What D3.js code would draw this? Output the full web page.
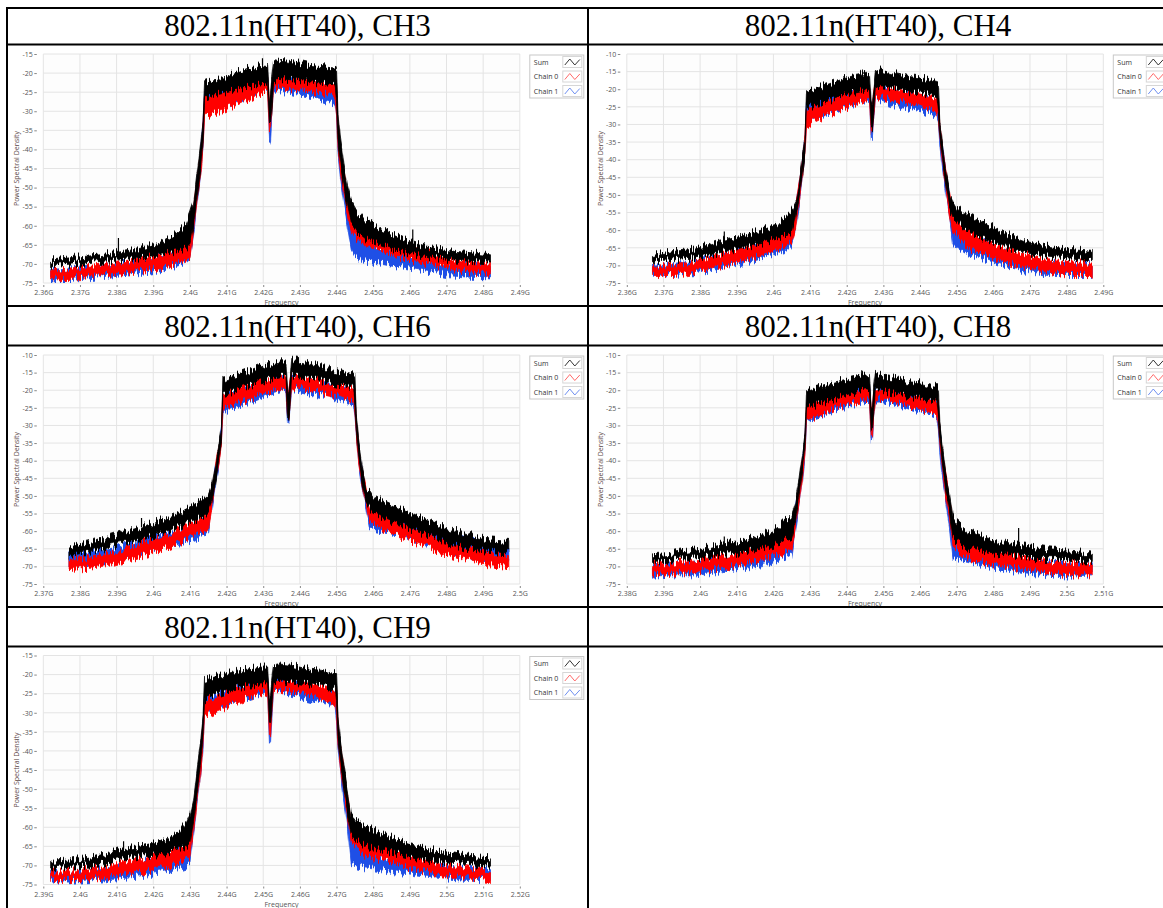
<!DOCTYPE html>
<html><head><meta charset="utf-8">
<script src="https://cdn.jsdelivr.net/npm/d3@7"></script>
<style>
html,body{margin:0;padding:0;background:#fff;overflow:hidden;}
svg{display:block;}
</style></head><body>
<svg id="chart" width="1163" height="908"></svg>
<script>
// ---------- DATA ----------
// frequency offsets (MHz) from each channel's centre, shared by all series
const offsetsMHz = [-60,-54,-48,-42,-36,-30, -26,-23,-22,-21,-20,-19, -18.4,-18,-17.6,-14,-10,-6,
  -2,-0.8,-0.3,0,0.3,0.8, 2,6,10,14,17.6,18, 18.4,19,20,21,22,23, 26,30,36,42,48,54, 60];

const titles = ["802.11n(HT40), CH3","802.11n(HT40), CH4","802.11n(HT40), CH6","802.11n(HT40), CH8","802.11n(HT40), CH9"];
const centersGHz = [2.422, 2.427, 2.437, 2.447, 2.452];
const xDomains = [[2.36,2.49],[2.36,2.49],[2.37,2.50],[2.38,2.51],[2.39,2.52]];
const yDomains = [[-75,-15],[-75,-10],[-75,-10],[-75,-10],[-75,-15]];
const seriesNames = ["Sum","Chain 0","Chain 1"];

// each entry: [low, high] envelope of the noisy trace (dB)
const ch3Sum = [[-70.5,-69],[-70,-68.3],[-69.5,-67.8],[-69,-67],[-68.5,-66],[-67.5,-64.5],
 [-66.7,-62.3],[-65.8,-59.7],[-65,-57],[-60,-54],[-52,-46],[-44,-38],
 [-37,-32],[-27,-22.5],[-26.5,-22.3],[-25.3,-21.8],[-24.4,-20],[-23.5,-18.7],
 [-22.7,-17.9],[-23,-18],[-33,-27],[-32.7,-25],[-30,-22],[-22.5,-17.5],
 [-21.4,-16.6],[-21.8,-17],[-22.2,-17.9],[-22.7,-18.3],[-23.1,-18.7],[-27,-19],
 [-38,-30],[-43,-37],[-50,-44],[-55,-50],[-60,-54],[-61,-56],
 [-63.5,-58.5],[-65,-61],[-66.8,-63.5],[-68,-65.5],[-68.8,-66.5],[-69.3,-67],
 [-69.8,-67.6]];
const ch3Chain0 = [[-73.7,-71.5],[-73.5,-71],[-73,-70.5],[-72.5,-69.8],[-71.8,-68.8],[-71,-67.5],
 [-70,-66],[-69,-64.5],[-68.5,-62],[-62,-56],[-54,-48],[-46,-40],
 [-39,-33],[-31.5,-25.5],[-31.4,-25.5],[-30,-24.5],[-28.5,-23.5],[-26.8,-22],
 [-25,-20.8],[-25,-21],[-35.7,-28],[-35,-27],[-31,-24],[-24,-20.5],
 [-23.8,-20.5],[-24.2,-21],[-24.6,-21.4],[-25.2,-22],[-25.7,-22.5],[-30,-23],
 [-40,-33],[-45,-39],[-52,-46],[-57,-52],[-61,-56],[-63,-58],
 [-65,-60.5],[-66.5,-62.5],[-68.5,-64.8],[-69.8,-66.8],[-71,-68.4],[-72,-69.2],
 [-72.8,-69.8]];
const ch3Chain1 = [[-74.2,-72],[-74,-71.5],[-73.5,-71],[-73,-70.2],[-72.3,-69.3],[-71.5,-68],
 [-70.5,-66.5],[-69.5,-65],[-68.5,-62],[-62,-56],[-54,-48],[-46,-40],
 [-39,-33],[-30,-24.5],[-29.5,-24],[-28.5,-23.5],[-27.5,-22.6],[-26,-21.5],
 [-24.5,-20.5],[-24.5,-20.8],[-37.9,-29],[-37,-28],[-32,-25],[-24,-20.5],
 [-24.5,-20.8],[-25.5,-21.5],[-26.2,-22.2],[-27,-23],[-27.9,-23.5],[-31,-24],
 [-41,-34],[-47,-40],[-54,-47],[-60,-53],[-66,-58],[-68,-61],
 [-69.3,-64],[-69.8,-65.5],[-70.8,-67.2],[-71.8,-68.6],[-72.8,-69.8],[-73.2,-70.2],
 [-73.4,-70.6]];

const ch4Sum = [[-68.7,-67.2],[-68.4,-66],[-67.8,-65.3],[-66.5,-63.2],[-65.1,-61.8],[-63.7,-59.9],
 [-62.2,-58.5],[-60.8,-54.7],[-60.4,-54.2],[-55.6,-51.9],[-50.9,-47.1],[-43.3,-38.6],
 [-38.6,-33.9],[-25.4,-20.7],[-25.2,-20.6],[-24,-19.3],[-22.6,-17.8],[-21.1,-16.4],
 [-20.2,-15.5],[-20.5,-15.5],[-31,-25],[-31,-24],[-28,-21],[-20,-15],
 [-19.3,-14.5],[-19.7,-15.5],[-20.7,-16.4],[-21.1,-16.9],[-22.1,-17.8],[-26,-18],
 [-33,-29],[-38.6,-34.8],[-47.1,-43.3],[-53.7,-49],[-56.6,-51.9],[-57.5,-53.7],
 [-60.4,-55.6],[-62.2,-57.5],[-64.6,-60.8],[-66.5,-63.2],[-67.4,-64.6],[-67.9,-65.5],
 [-68.4,-66]];
const ch4Chain0 = [[-72.6,-70.3],[-72.6,-69.8],[-71.7,-68.9],[-70.3,-67],[-68.9,-65.1],[-67,-62.7],
 [-65.5,-61.3],[-64.1,-59.4],[-63.2,-58.9],[-60,-54],[-53,-47.5],[-44,-39],
 [-38,-34],[-30.1,-25.4],[-30,-25.3],[-28.2,-24],[-26.3,-22.1],[-24.9,-20.7],
 [-23,-19.3],[-23,-19.5],[-33,-26],[-33,-25],[-29,-22],[-22.5,-19],
 [-22.1,-18.8],[-23,-19.7],[-24,-20.7],[-24.9,-21.6],[-26.3,-22.6],[-28,-22],
 [-34,-30],[-40,-35],[-48,-43],[-55,-49],[-60.4,-55.6],[-61,-56.5],
 [-65.1,-59.9],[-66.5,-62.2],[-68.9,-65.1],[-70.7,-67],[-71.7,-68.4],[-72.6,-69.3],
 [-72.6,-69.3]];
const ch4Chain1 = [[-72.8,-70.5],[-72.6,-70],[-72,-69],[-70.8,-67.3],[-69.5,-65.6],[-67.8,-63],
 [-66.5,-61.8],[-65.5,-59.5],[-64,-58.5],[-60,-54],[-53,-47.5],[-44,-39],
 [-38,-34],[-28.7,-24],[-28.5,-23.8],[-27.3,-22.6],[-25.9,-21.1],[-24.5,-20.2],
 [-23,-19.3],[-23.2,-19.5],[-34,-26],[-34,-25],[-29,-22],[-22.8,-19.2],
 [-22.9,-19.3],[-24.5,-20.7],[-25.4,-21.6],[-26.3,-22.6],[-27.8,-24],[-29,-23],
 [-35,-30],[-41,-35],[-49,-43],[-56,-50],[-64.1,-58.5],[-65,-58],
 [-67,-61.3],[-67.9,-63.2],[-70.3,-66.5],[-71.7,-68.4],[-72.6,-69.3],[-72.6,-69.8],
 [-72.6,-69.8]];

const ch6Sum = [[-67.2,-64.8],[-66.2,-63.4],[-64.3,-61.5],[-62.9,-59.6],[-61,-57.2],[-58.7,-54.9],
 [-57.2,-52.5],[-55.3,-50.6],[-54.4,-49.7],[-51.6,-46.8],[-45.9,-41.2],[-39.3,-34.6],
 [-34.6,-30.8],[-21.3,-17.1],[-21.2,-17],[-19.9,-15.7],[-18.5,-14.3],[-17.1,-12.8],
 [-16.1,-11.9],[-16,-12],[-28.4,-22],[-28,-21],[-25,-18],[-15.5,-11.5],
 [-16.1,-11.4],[-16.6,-12.4],[-17.6,-13.8],[-18.5,-14.7],[-19.4,-15.7],[-24,-16],
 [-31,-27],[-39.3,-34.6],[-46.8,-42.1],[-51.6,-47.8],[-53.5,-48.7],[-54.4,-50.2],
 [-56.3,-51.6],[-58.2,-53.5],[-60.5,-56.3],[-62.9,-58.7],[-64.8,-60.5],[-65.7,-62.4],
 [-66.2,-62.9]];
const ch6Chain0 = [[-70.9,-68.1],[-70.5,-67.6],[-69.5,-66.2],[-67.6,-63.8],[-65.7,-62],[-63.4,-59.6],
 [-61.5,-57.7],[-59.6,-55.3],[-59.1,-54.4],[-53,-48],[-46,-42],[-40,-35.5],
 [-35,-31],[-25.1,-20.9],[-25,-20.8],[-23.7,-19.4],[-22.3,-18],[-20.4,-16.6],
 [-19.4,-15.7],[-19.5,-16],[-28,-22],[-28,-21],[-25,-18],[-19.5,-15.8],
 [-19,-15.7],[-19.9,-16.6],[-20.9,-17.6],[-21.8,-18.5],[-23.2,-19.4],[-26,-20],
 [-32,-28],[-40,-35],[-47,-43],[-52,-48],[-57.2,-53],[-58,-53.5],
 [-59.6,-54.9],[-61.5,-56.8],[-63.8,-59.6],[-66.2,-62],[-68.1,-64.3],[-69.5,-65.7],
 [-70,-66.7]];
const ch6Chain1 = [[-69.9,-65.7],[-69,-65.7],[-68.1,-64.8],[-66.7,-63.4],[-65.3,-61.5],[-63.4,-59.6],
 [-62.4,-58.2],[-61,-56.3],[-60,-55],[-53.5,-48.5],[-46.5,-42],[-40.5,-35.5],
 [-35.5,-31],[-26.1,-22.3],[-26,-22.2],[-24.6,-20.4],[-23.2,-19],[-21.3,-17.6],
 [-20.4,-16.6],[-20.4,-16.8],[-30,-22],[-29.5,-21],[-25,-18.5],[-20,-16.6],
 [-19.9,-16.6],[-20.9,-17.6],[-21.8,-18.5],[-22.8,-19.4],[-23.7,-20.4],[-27,-21],
 [-33,-28.5],[-41,-35.5],[-48,-43.5],[-53,-48.5],[-59.1,-53.5],[-59.5,-54],
 [-60,-55],[-60.5,-56.3],[-62.9,-58.7],[-64.8,-60.5],[-66.7,-62.4],[-67.6,-63.8],
 [-68.6,-64.8]];

const ch8Sum = [[-68.6,-66.7],[-68.1,-66.2],[-67.6,-65.3],[-66.7,-63.8],[-66.2,-62.9],[-64.8,-61],
 [-63.8,-59.1],[-62,-56.3],[-61.5,-55.3],[-57,-52],[-50,-46],[-42,-38],
 [-37,-33],[-25.1,-20.4],[-25,-20.3],[-23.7,-19],[-22.3,-17.6],[-20.9,-16.6],
 [-19.9,-15.7],[-20,-15.5],[-31.7,-25],[-31,-24],[-27,-20],[-20,-15.5],
 [-19.9,-15.7],[-20.9,-16.6],[-21.8,-17.6],[-22.3,-18],[-23.2,-19],[-27,-19],
 [-34,-30],[-40,-35],[-48,-43],[-54,-49],[-62,-56],[-63,-57.5],
 [-64.8,-60],[-65.7,-61.5],[-66.7,-63.4],[-67.6,-64.3],[-68.1,-65.3],[-68.1,-65.7],
 [-68.6,-66.2]];
const ch8Chain0 = [[-72.4,-69.5],[-71.9,-69],[-71.4,-68.1],[-70.5,-67.2],[-69.5,-65.7],[-68.1,-63.8],
 [-66.7,-62.4],[-65.7,-61],[-65.3,-60],[-59,-54],[-52,-47],[-44,-39],
 [-38,-34],[-28.4,-24.2],[-28.3,-24.1],[-27,-22.8],[-25.1,-20.9],[-23.7,-19.9],
 [-22.8,-19],[-22.8,-19],[-32.7,-26],[-32.7,-25],[-28,-21],[-22.5,-19],
 [-22.3,-19],[-23.2,-19.9],[-24.6,-20.9],[-25.6,-21.8],[-27,-22.8],[-30,-23],
 [-36,-31],[-42,-37],[-50,-44],[-56,-51],[-64,-58.5],[-65,-59.5],
 [-67.6,-62.4],[-68.6,-63.8],[-70,-66.2],[-70.9,-67.6],[-71.9,-68.6],[-72.4,-69],
 [-72.4,-69]];
const ch8Chain1 = [[-72.8,-70],[-72.4,-69.5],[-72.4,-69],[-71.4,-68.1],[-70.5,-67.2],[-69.5,-65.3],
 [-68.1,-63.8],[-67.2,-62],[-66.7,-61],[-59.5,-54],[-52.5,-47],[-44.5,-39],
 [-38.5,-34],[-28.9,-25.1],[-28.8,-25],[-27.5,-23.2],[-25.6,-21.8],[-24.2,-20.4],
 [-23.2,-19.4],[-23.2,-19.4],[-34,-26],[-34,-25],[-29,-21.5],[-22.8,-19.4],
 [-22.8,-19.4],[-23.7,-20.4],[-25.1,-21.3],[-26.1,-22.3],[-27.5,-23.2],[-30.5,-23.5],
 [-37,-31.5],[-43,-37.5],[-51,-45],[-58,-52],[-67.6,-60],[-67.8,-61],
 [-68.6,-63.8],[-69.5,-64.8],[-70.9,-67.2],[-71.9,-68.1],[-72.4,-69],[-72.8,-69.5],
 [-72.4,-69.5]];

const ch9Sum = [[-70.7,-68.9],[-70.2,-68.5],[-69.8,-67.6],[-68.9,-66.3],[-67.6,-65],[-67.2,-63.7],
 [-65.9,-62],[-65,-58.9],[-64.1,-56.7],[-58,-52],[-50,-44],[-42,-37],
 [-36,-31],[-26.7,-21.5],[-26.5,-21.4],[-25,-20.2],[-23.7,-19.3],[-22.8,-18.5],
 [-22.4,-18],[-22.5,-18],[-32.8,-26],[-32.5,-25.5],[-29,-22],[-22,-17.5],
 [-21.5,-17.2],[-22,-17.6],[-22.4,-18.5],[-22.8,-18.9],[-23.7,-19.8],[-27,-20],
 [-36,-30],[-42,-37],[-50,-44],[-56,-50],[-62,-57],[-63,-58],
 [-65,-59.8],[-65.9,-61.5],[-67.2,-63.7],[-68.5,-65.4],[-69.3,-66.7],[-69.8,-67.6],
 [-70.2,-68]];
const ch9Chain0 = [[-73.7,-71.5],[-73.7,-71.5],[-73.3,-70.7],[-72.8,-69.8],[-72,-68.5],[-70.7,-66.7],
 [-69.8,-65.4],[-68.5,-63.7],[-68,-62.4],[-61,-55],[-53,-47],[-45,-39],
 [-38,-33],[-30.7,-26.7],[-30.6,-26.6],[-29.3,-25.4],[-27.6,-23.7],[-25.9,-22.4],
 [-24.6,-21.1],[-24.6,-21],[-36.3,-28],[-36,-27],[-31,-24],[-24,-20.5],
 [-23.7,-20.7],[-24.6,-21.5],[-25.4,-22.4],[-26.7,-23.3],[-27.6,-24.1],[-31,-24],
 [-38,-32],[-44,-38],[-51,-45],[-57,-51],[-64,-59],[-65,-60],
 [-67.6,-62.4],[-68.5,-64.1],[-70.2,-66.3],[-71.5,-68.5],[-72.4,-69.8],[-73.3,-70.7],
 [-73.7,-71.1]];
const ch9Chain1 = [[-74.1,-72],[-74.1,-72],[-73.7,-71.1],[-73.3,-70.2],[-72.8,-69.3],[-72,-68],
 [-71.1,-66.7],[-70.2,-65],[-69.8,-64.1],[-61.5,-55],[-53.5,-47],[-45.5,-39],
 [-38.5,-33],[-30.2,-25.9],[-30,-25.8],[-28.5,-24.6],[-27.2,-23.3],[-25.9,-22],
 [-24.6,-21.1],[-24.8,-21.2],[-38,-28],[-37.5,-27],[-32,-24.5],[-24.2,-21],
 [-24.1,-21.1],[-25,-22],[-26.3,-22.8],[-27.2,-23.7],[-28,-24.6],[-31.5,-24.5],
 [-39,-32.5],[-45,-38.5],[-53,-46],[-60,-53],[-69.8,-61.5],[-70,-63],
 [-70.7,-66.7],[-71.1,-67.6],[-72,-68.5],[-72.8,-69.8],[-73.3,-70.7],[-73.7,-71.1],
 [-73.7,-71.1]];

// isolated spikes of the Sum trace: [frequency GHz, peak dB]
const ch3Spikes = [[2.3805,-63.2],[2.4608,-61.0],[2.4198,-16.1],[2.4248,-16.3],[2.4399,-18.3]];
const ch4Spikes = [[2.3866,-60.4],[2.4292,-14.1],[2.4245,-15.2]];
const ch6Spikes = [[2.3968,-56.3],[2.4395,-11.2],[2.4313,-12.0]];
const ch8Spikes = [[2.4066,-61.5],[2.4869,-59.1],[2.4441,-14.3]];
const ch9Spikes = [[2.4119,-63.7],[2.4545,-17.2]];

const sumData = [ch3Sum, ch4Sum, ch6Sum, ch8Sum, ch9Sum];
const chain0Data = [ch3Chain0, ch4Chain0, ch6Chain0, ch8Chain0, ch9Chain0];
const chain1Data = [ch3Chain1, ch4Chain1, ch6Chain1, ch8Chain1, ch9Chain1];
const spikeData = [ch3Spikes, ch4Spikes, ch6Spikes, ch8Spikes, ch9Spikes];

// ---------- DRAWING ----------
const svg = d3.select("#chart");
const defs = svg.append("defs");
const plotLefts = [43.3, 626.8];
const plotTops = [54, 355, 655.5];
const PW = 476.5, PH = 229;
const headerX = [297.5, 878];
const headerBase = [36, 337, 637.5];
const tickFont = "'Open Sans', 'DejaVu Sans', sans-serif";

const colors = {sum:"#000000", c0:"#ff0000", c1:"#1f4fe6"};
const legendColors = ["#333333","#ff6a6a","#6f8ff0"];

// texture filters: vertical jitter so the bands read like dense noisy traces
["n0","n1","n2"].forEach((id, k) => {
  const f = defs.append("filter").attr("id", id).attr("filterUnits", "userSpaceOnUse")
    .attr("x", 0).attr("y", 0).attr("width", 1163).attr("height", 908)
    .attr("color-interpolation-filters", "sRGB");
  f.append("feTurbulence").attr("type", "fractalNoise").attr("baseFrequency", "0.55 0.012")
    .attr("numOctaves", 2).attr("seed", 7 + k * 13).attr("result", "t");
  f.append("feColorMatrix").attr("in", "t").attr("type", "matrix")
    .attr("values", "0 0 0 0 0.5  0 2.6 0 0 -0.8  0 0 0 0 0  0 0 0 0 1").attr("result", "m");
  f.append("feDisplacementMap").attr("in", "SourceGraphic").attr("in2", "m").attr("scale", 8)
    .attr("xChannelSelector", "R").attr("yChannelSelector", "G");
});

titles.forEach((title, i) => {
  const col = i % 2, row = Math.floor(i / 2);
  const L = plotLefts[col], T = plotTops[row];
  const x = d3.scaleLinear().domain(xDomains[i]).range([L, L + PW]);
  const y = d3.scaleLinear().domain(yDomains[i]).range([T + PH, T]);
  const g = svg.append("g");

  // header
  svg.append("text").attr("x", headerX[col]).attr("y", headerBase[row])
    .attr("text-anchor", "middle")
    .style("font-family", "'Liberation Serif','Times New Roman',serif")
    .style("font-size", "31px").attr("fill", "#000").text(title);

  g.append("rect").attr("x", L).attr("y", T).attr("width", PW).attr("height", PH)
    .attr("fill", "#fdfdfd");

  const xTicks = d3.range(0, 14).map(k => +(xDomains[i][0] + k * 0.01).toFixed(2));
  const yTicks = d3.range(yDomains[i][0], yDomains[i][1] + 0.1, 5);

  // grid
  g.append("g").selectAll("line").data(xTicks).join("line")
    .attr("x1", d => x(d)).attr("x2", d => x(d)).attr("y1", T).attr("y2", T + PH)
    .attr("stroke", "#e4e4e4").attr("stroke-width", 1);
  g.append("g").selectAll("line").data(yTicks).join("line")
    .attr("x1", L).attr("x2", L + PW).attr("y1", d => y(d)).attr("y2", d => y(d))
    .attr("stroke", "#e4e4e4").attr("stroke-width", 1);

  // axes
  const ya = g.append("g").attr("transform", `translate(${L - 6.5},0)`)
    .call(d3.axisLeft(y).tickValues(yTicks).tickSize(2.5).tickPadding(1.5).tickFormat(d => String(d)));
  const xa = g.append("g").attr("transform", `translate(0,${T + PH + 2})`)
    .call(d3.axisBottom(x).tickValues(xTicks).tickSize(2).tickPadding(3.5).tickFormat(d => (+d.toFixed(2)) + "G"));
  [ya, xa].forEach(a => {
    a.select(".domain").remove();
    a.selectAll(".tick line").attr("stroke", "#888");
    a.selectAll("text").style("font-family", tickFont).style("font-size", "7px").attr("fill", "#555");
  });

  // axis titles
  g.append("text").attr("x", L + PW / 2).attr("y", T + PH + 22).attr("text-anchor", "middle")
    .style("font-family", tickFont).style("font-size", "7px").attr("fill", "#555").text("Frequency");
  g.append("text").attr("transform", `translate(${L - 24},${T + PH / 2}) rotate(-90)`)
    .attr("text-anchor", "middle").style("font-family", tickFont).style("font-size", "7px")
    .attr("fill", "#5a4646").text("Power Spectral Density");

  // clip
  const cid = "clip" + i;
  defs.append("clipPath").attr("id", cid).append("rect")
    .attr("x", L).attr("y", T - 2).attr("width", PW).attr("height", PH + 2);
  const pg = g.append("g").attr("clip-path", `url(#${cid})`);

  const fx = k => x(centersGHz[i] + offsetsMHz[k] / 1000);
  const area = d3.area().x((d, k) => fx(k)).y0(d => y(d[0])).y1(d => y(d[1])).curve(d3.curveLinear);

  [[chain1Data[i], colors.c1, "n2"], [chain0Data[i], colors.c0, "n1"], [sumData[i], colors.sum, "n0"]].forEach(([data, c, fid]) => {
    pg.append("g").attr("filter", `url(#${fid})`).append("path").datum(data).attr("d", area)
      .attr("fill", c).attr("stroke", c).attr("stroke-width", 0.8).attr("stroke-linejoin", "round");
  });

  // spikes on the Sum trace
  const hiOfSum = d3.scaleLinear()
    .domain(offsetsMHz.map(o => centersGHz[i] + o / 1000))
    .range(sumData[i].map(d => d[1]));
  pg.append("g").selectAll("line").data(spikeData[i]).join("line")
    .attr("x1", d => x(d[0])).attr("x2", d => x(d[0]))
    .attr("y1", d => y(d[1])).attr("y2", d => y(hiOfSum(d[0])))
    .attr("stroke", colors.sum).attr("stroke-width", 1.2);

  // legend
  const lx = L + PW + 10, ly = T + 1;
  const lg = g.append("g");
  lg.append("rect").attr("x", lx).attr("y", ly).attr("width", 54).attr("height", 43)
    .attr("fill", "#fff").attr("stroke", "#c8c8c8");
  seriesNames.forEach((name, k) => {
    const ry = ly + 7 + k * 14.5;
    lg.append("text").attr("x", lx + 4).attr("y", ry + 2.5)
      .style("font-family", tickFont).style("font-size", "7px").attr("fill", "#333").text(name);
    lg.append("rect").attr("x", lx + 33).attr("y", ry - 5.5).attr("width", 19).attr("height", 11)
      .attr("fill", "#fff").attr("stroke", "#d6d6d6");
    lg.append("polyline")
      .attr("points", [[lx + 35, ry + 3], [lx + 40, ry - 3], [lx + 45, ry + 3], [lx + 50, ry - 2.5]].join(" "))
      .attr("fill", "none").attr("stroke", legendColors[k]).attr("stroke-width", 1);
  });
});

// ---------- TABLE BORDERS ----------
const hLines = [8, 44.5, 306, 345.5, 607, 646.5];
const tb = svg.append("g");
tb.selectAll("line.h").data(hLines).join("line").attr("class", "h")
  .attr("x1", 6).attr("x2", 1163).attr("y1", d => d).attr("y2", d => d)
  .attr("stroke", "#000").attr("stroke-width", 2);
tb.selectAll("line.v").data([7, 588]).join("line").attr("class", "v")
  .attr("x1", d => d).attr("x2", d => d).attr("y1", 7).attr("y2", 908)
  .attr("stroke", "#000").attr("stroke-width", 2);
</script>
</body></html>
